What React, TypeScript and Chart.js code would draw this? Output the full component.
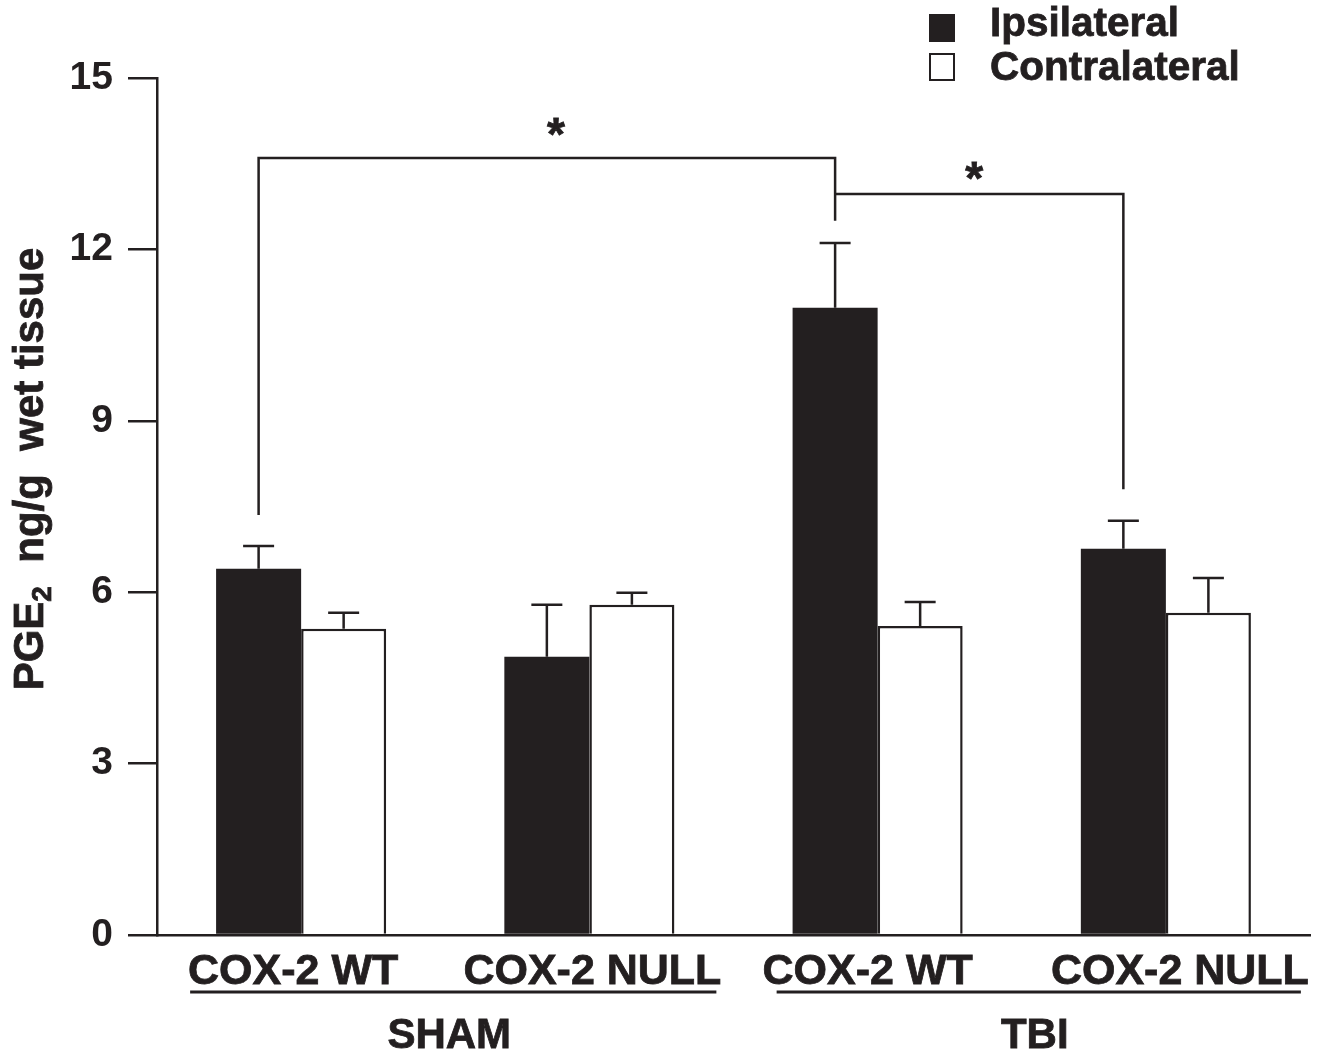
import React, { useEffect, useRef } from "react";
import { Chart, registerables } from "chart.js";

Chart.register(...registerables);

// ---- data ----
const categories = ["COX-2 WT", "COX-2 NULL", "COX-2 WT", "COX-2 NULL"];
const groupNames = ["SHAM", "TBI"];
const seriesNames = ["Ipsilateral", "Contralateral"];
const ipsilateral = [6.41, 4.87, 10.98, 6.76];
const ipsilateralErr = [0.4, 0.91, 1.13, 0.49];
const contralateral = [5.36, 5.78, 5.41, 5.64];
const contralateralErr = [0.28, 0.21, 0.42, 0.61];
const yTicks = [0, 3, 6, 9, 12, 15];
// significance brackets: from/to category (ipsilateral bars), heights in data units
const bracketFrom = [0, 2];
const bracketTo = [2, 3];
const bracketTop = [13.6, 12.97];
const bracketFromEnd = [7.35, 12.97];
const bracketToEnd = [12.5, 7.8];
const bracketStar = [14.13, 13.36];

const INK = "#231f20";
const FONT = "'Liberation Sans', Arial, Helvetica, sans-serif";

function heavyText(ctx: any, text: string, x: number, y: number) {
  ctx.fillText(text, x, y);
  ctx.save();
  ctx.lineWidth = 0.8;
  ctx.strokeStyle = INK;
  ctx.strokeText(text, x, y);
  ctx.restore();
}

const annotations = {
  id: "annotations",
  afterDatasetsDraw(chart: any) {
    const ctx = chart.ctx;
    const y = chart.scales.y;
    const errs = [ipsilateralErr, contralateralErr];
    ctx.save();
    ctx.strokeStyle = INK;
    ctx.lineWidth = 2.5;
    [0, 1].forEach((d) => {
      const meta = chart.getDatasetMeta(d);
      const vals = chart.data.datasets[d].data as number[];
      meta.data.forEach((el: any, i: number) => {
        const top = y.getPixelForValue(vals[i] + errs[d][i]);
        ctx.beginPath();
        ctx.moveTo(el.x, el.y);
        ctx.lineTo(el.x, top);
        ctx.moveTo(el.x - 15.5, top);
        ctx.lineTo(el.x + 15.5, top);
        ctx.stroke();
      });
    });
    ctx.restore();
  },
  afterDraw(chart: any) {
    const ctx = chart.ctx;
    const x = chart.scales.x;
    const y = chart.scales.y;
    const area = chart.chartArea;
    const ipsiMeta = chart.getDatasetMeta(0);
    ctx.save();
    ctx.fillStyle = INK;
    ctx.strokeStyle = INK;
    ctx.lineWidth = 2.5;

    // brackets
    bracketFrom.forEach((f, k) => {
      const x1 = ipsiMeta.data[f].x;
      const x2 = ipsiMeta.data[bracketTo[k]].x;
      const yt = y.getPixelForValue(bracketTop[k]);
      ctx.beginPath();
      ctx.lineWidth = 2.5;
      ctx.moveTo(x1, y.getPixelForValue(bracketFromEnd[k]));
      ctx.lineTo(x1, yt);
      ctx.lineTo(x2, yt);
      ctx.lineTo(x2, y.getPixelForValue(bracketToEnd[k]));
      ctx.stroke();
      ctx.font = `bold 46px ${FONT}`;
      ctx.textAlign = "center";
      ctx.textBaseline = "alphabetic";
      const sx = (x1 + x2) / 2 + (k === 0 ? 9 : -5);
      heavyText(ctx, "*", sx, y.getPixelForValue(bracketStar[k]) + 22);
    });

    // category labels
    const labelShift = [-8, 3, -10, 14];
    ctx.font = `bold 43px ${FONT}`;
    ctx.textAlign = "center";
    ctx.textBaseline = "alphabetic";
    categories.forEach((c, i) => {
      heavyText(ctx, c, x.getPixelForValue(i) + labelShift[i], area.bottom + 49);
    });

    // group underline + labels
    const groupSpan = [
      [x.getPixelForValue(0) - 111, x.getPixelForValue(1) + 127],
      [x.getPixelForValue(2) - 101, x.getPixelForValue(3) + 135],
    ];
    ctx.font = `bold 42px ${FONT}`;
    groupNames.forEach((g, k) => {
      const [a, b] = groupSpan[k];
      ctx.beginPath();
      ctx.lineWidth = 3;
      ctx.moveTo(a, area.bottom + 57);
      ctx.lineTo(b, area.bottom + 57);
      ctx.stroke();
      heavyText(ctx, g, (a + b) / 2 - 4, area.bottom + 113);
    });

    // y title with subscript
    ctx.save();
    ctx.translate(28, 469);
    ctx.rotate(-Math.PI / 2);
    const big = `bold 42px ${FONT}`;
    const small = `bold 28px ${FONT}`;
    ctx.textAlign = "left";
    ctx.font = big;
    const w1 = ctx.measureText("PGE").width;
    const rest = "  ng/g  wet tissue";
    const w3 = ctx.measureText(rest).width;
    ctx.font = small;
    const w2 = ctx.measureText("2").width;
    const start = -(w1 + w2 + w3) / 2;
    ctx.font = big;
    heavyText(ctx, "PGE", start, 15);
    ctx.font = small;
    heavyText(ctx, "2", start + w1, 23);
    ctx.font = big;
    heavyText(ctx, rest, start + w1 + w2, 15);
    ctx.restore();

    // legend
    ctx.fillRect(929, 14, 26, 28);
    ctx.lineWidth = 2;
    ctx.strokeRect(930, 54, 24, 26);
    ctx.font = `bold 40.5px ${FONT}`;
    ctx.textAlign = "left";
    heavyText(ctx, seriesNames[0], 990, 36);
    heavyText(ctx, seriesNames[1], 990, 80);
    ctx.restore();
  },
};

export default function App() {
  const ref = useRef<HTMLCanvasElement>(null);
  useEffect(() => {
    if (!ref.current) return;
    const chart = new Chart(ref.current, {
      type: "bar",
      data: {
        labels: categories,
        datasets: [
          {
            label: seriesNames[0],
            data: ipsilateral,
            backgroundColor: INK,
            borderWidth: 0,
            barPercentage: 1,
            categoryPercentage: 0.59,
          },
          {
            label: seriesNames[1],
            data: contralateral,
            backgroundColor: "#ffffff",
            borderColor: INK,
            borderWidth: 2.5,
            borderSkipped: "start",
            barPercentage: 1,
            categoryPercentage: 0.59,
          },
        ],
      },
      options: {
        animation: false,
        responsive: false,
        maintainAspectRatio: false,
        layout: { padding: { top: 78, right: 21, left: 0, bottom: 0 } },
        plugins: {
          legend: { display: false },
          tooltip: { enabled: false },
          title: { display: false },
        },
        scales: {
          x: {
            type: "category",
            offset: true,
            grid: { display: false, drawTicks: false },
            border: { display: true, color: INK, width: 2.5 },
            ticks: { display: false },
            afterFit: (s: any) => {
              s.height = 122;
            },
          },
          y: {
            min: 0,
            max: 15,
            afterBuildTicks: (s: any) => {
              s.ticks = yTicks.map((v) => ({ value: v }));
            },
            ticks: {
              font: { family: FONT, size: 39, weight: "bold" },
              color: INK,
              padding: 15,
            },
            grid: {
              drawOnChartArea: false,
              drawTicks: true,
              tickLength: 29,
              color: INK,
              lineWidth: 2.5,
            },
            border: { display: true, color: INK, width: 2.5 },
            afterFit: (s: any) => {
              s.width = 157;
            },
          },
        },
      } as any,
      plugins: [annotations],
    });
    return () => chart.destroy();
  }, []);
  return (
    <div style={{ position: "absolute", left: 0, top: 0, width: 1331, height: 1057, background: "#fff" }}>
      <canvas ref={ref} width={1331} height={1057} style={{ display: "block" }} />
    </div>
  );
}
